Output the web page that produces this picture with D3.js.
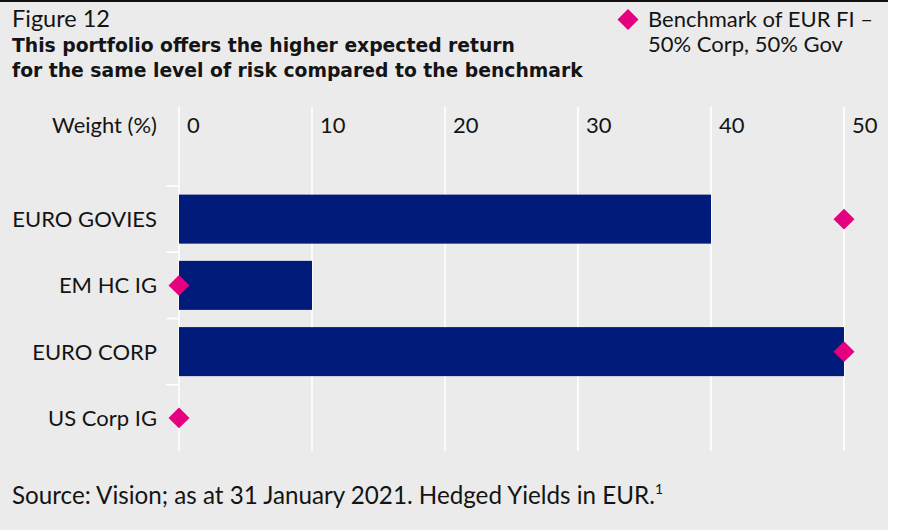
<!DOCTYPE html>
<html><head><meta charset="utf-8">
<script src="https://cdn.jsdelivr.net/npm/d3@7"></script>
<style>
body{margin:0;background:#fff}
svg{display:block}
text{font-family:Lato, "Open Sans", sans-serif;fill:#141414}
</style>
</head><body>
<svg id="chart" width="897" height="530"></svg>
<script>
// ---- data ----
const categories = ["EURO GOVIES", "EM HC IG", "EURO CORP", "US Corp IG"];
const portfolioWeights = [40, 10, 50, 0];
const benchmarkWeights = [50, 0, 50, 0];
const xTicks = [0, 10, 20, 30, 40, 50];
const figureLabel = "Figure 12";
const titleLines = ["This portfolio offers the higher expected return",
                    "for the same level of risk compared to the benchmark"];
const legendLines = ["Benchmark of EUR FI \u2013", "50% Corp, 50% Gov"];
const axisTitle = "Weight (%)";
const sourceText = "Source: Vision; as at 31 January 2021. Hedged Yields in EUR.";

// ---- layout ----
const svg = d3.select("#chart");
const BG = "#ebebeb", NAVY = "#001b79", PINK = "#e4007f";

svg.append("rect").attr("x",0).attr("y",0).attr("width",888).attr("height",530).attr("fill",BG);
svg.append("rect").attr("x",0).attr("y",0).attr("width",888).attr("height",2).attr("fill","#111");

const x = d3.scaleLinear().domain([0, 50]).range([179, 844]);
const y = d3.scaleBand().domain(categories).range([186, 451]).paddingInner(0.26).paddingOuter(0.13);
const gridTop = 107, gridBottom = 451;

// gridlines
svg.append("g").selectAll("line").data(xTicks).join("line")
  .attr("x1", d => x(d)).attr("x2", d => x(d))
  .attr("y1", gridTop).attr("y2", gridBottom)
  .attr("stroke", "#fff").attr("stroke-width", 1.6);

// category ticks at band boundaries
const step = y.step();
svg.append("g").selectAll("line").data(categories).join("line")
  .attr("x1", 166).attr("x2", x(0))
  .attr("y1", d => y(d) - step * 0.13).attr("y2", d => y(d) - step * 0.13)
  .attr("stroke", "#fff").attr("stroke-width", 1.6);

// top tick labels
svg.append("g").selectAll("text").data(xTicks).join("text")
  .attr("x", d => x(d) + 8).attr("y", 133)
  .attr("font-size", 22).text(d => d);
svg.append("text").attr("x", 157).attr("y", 133).attr("text-anchor","end")
  .attr("font-size", 22).text(axisTitle);

// category labels
svg.append("g").selectAll("text").data(categories).join("text")
  .attr("x", 157).attr("y", d => y(d) + y.bandwidth()/2)
  .attr("dy", "0.36em").attr("text-anchor", "end")
  .attr("font-size", 22).text(d => d);

// bars
svg.append("g").selectAll("rect").data(categories).join("rect")
  .attr("x", x(0)).attr("y", d => y(d))
  .attr("width", (d,i) => x(portfolioWeights[i]) - x(0))
  .attr("height", y.bandwidth())
  .attr("fill", NAVY);

// benchmark diamonds
const diamond = d3.symbol().type(d3.symbolSquare).size(220);
svg.append("g").selectAll("path").data(categories).join("path")
  .attr("d", diamond)
  .attr("transform", (d,i) => `translate(${x(benchmarkWeights[i])},${y(d) + y.bandwidth()/2}) rotate(45)`)
  .attr("fill", PINK);

// titles
svg.append("text").attr("x", 12).attr("y", 27).attr("font-size", 23.5).text(figureLabel);
svg.append("g").selectAll("text").data(titleLines).join("text")
  .attr("x", 12).attr("y", (d,i) => 52 + i*25)
  .attr("font-size", 18.75).attr("font-weight", "bold")
  .style("font-family", "'DejaVu Sans', sans-serif").text(d => d);

// legend
svg.append("path").attr("d", diamond).attr("transform","translate(628,19.5) rotate(45)").attr("fill", PINK);
svg.append("g").selectAll("text").data(legendLines).join("text")
  .attr("x", 648).attr("y", (d,i) => 27 + i*25)
  .attr("font-size", 22).text(d => d);

// source
const src = svg.append("text").attr("x", 12).attr("y", 504).attr("font-size", 24.2).text(sourceText);
src.append("tspan").attr("font-size", 14).attr("dy", -10).text("1");
</script>
</body></html>
